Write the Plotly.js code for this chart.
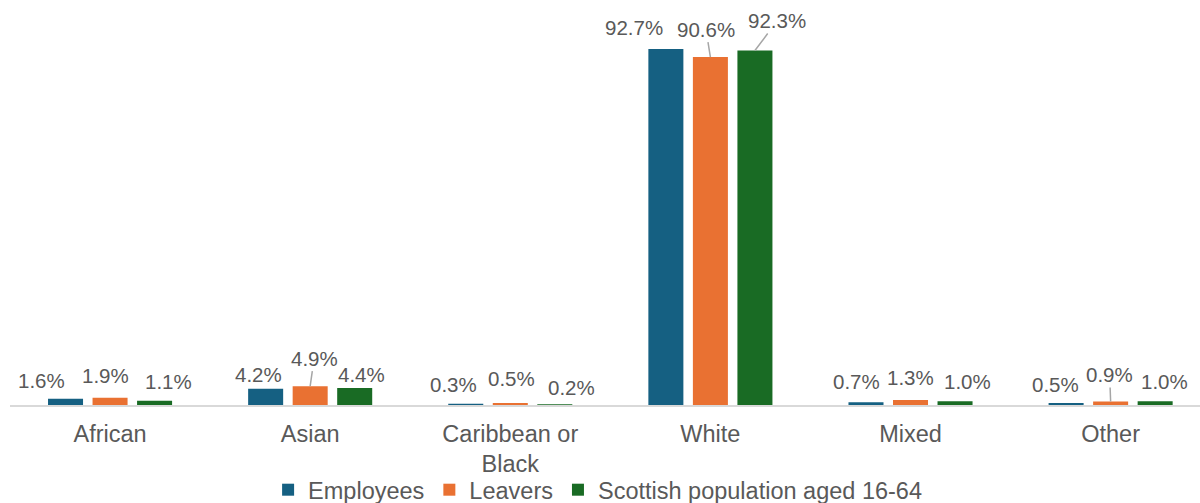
<!DOCTYPE html>
<html>
<head>
<meta charset="utf-8">
<script src="https://cdn.plot.ly/plotly-3.0.1.min.js"></script>
<style>html,body{margin:0;padding:0;background:#fff;}#chart{width:1200px;height:503px;}</style>
</head>
<body>
<div id="chart"></div>
<script>
// ---- data ----
var categories = ['African', 'Asian', 'Caribbean or Black', 'White', 'Mixed', 'Other'];
var tickLabels = ['African', 'Asian', 'Caribbean or<br>Black', 'White', 'Mixed', 'Other'];
var seriesNames = ['Employees', 'Leavers', 'Scottish population aged 16-64'];
var employees = [1.6, 4.2, 0.3, 92.7, 0.7, 0.5];
var leavers = [1.9, 4.9, 0.5, 90.6, 1.3, 0.9];
var scottish = [1.1, 4.4, 0.2, 92.3, 1.0, 1.0];

// ---- style ----
var colors = ['#156082', '#E97132', '#196B24'];
var textColor = '#595959';
var font = '"Liberation Sans", Arial, sans-serif';
var bargap = 0.3325, bargroupgap = 0.2135;
// label pixel offsets (dx, dy) from bar top, per series per category; leader = draw leader line
var labelDx = [[-24, -7.5, -12.5, -32, -9.5, -10.5], [-5, 4, 1.5, -4.5, 0, -1], [14, 7, 16.5, 22.5, 12, 9.5]];
var labelDy = [[-18, -14, -19, -22, -20.5, -18.5], [-22, -28, -24.5, -28, -22.5, -27], [-19, -13.5, -16.5, -30, -19.5, -19.5]];
var leader = [[0,0,0,0,0,0],[0,1,0,1,0,1],[0,0,0,1,0,0]];

var series = [employees, leavers, scottish];
var traces = series.map(function (vals, s) {
  return {
    type: 'bar', name: seriesNames[s], x: categories, y: vals,
    marker: {color: colors[s], line: {width: 0}},
    hoverinfo: 'skip'
  };
});

var slot = (1 - bargap) / 3;
var annotations = [];
series.forEach(function (vals, s) {
  vals.forEach(function (v, i) {
    annotations.push({
      xref: 'x', yref: 'y', x: i + (s - 1) * slot, y: v,
      text: v.toFixed(1) + '%',
      showarrow: true, arrowhead: 0, arrowwidth: 1.5, standoff: 0,
      arrowcolor: leader[s][i] ? '#a6a6a6' : 'rgba(0,0,0,0)',
      ax: labelDx[s][i], ay: labelDy[s][i],
      font: {family: font, size: 20.5, color: textColor}
    });
  });
});

var layout = {
  width: 1200, height: 503,
  margin: {l: 9.5, r: 0, t: 21, b: 98},
  paper_bgcolor: '#fff', plot_bgcolor: '#fff',
  barmode: 'group', bargap: bargap, bargroupgap: bargroupgap,
  showlegend: true,
  legend: {
    orientation: 'h', xref: 'container', yref: 'container',
    x: 0.498, xanchor: 'center', y: 0.026, yanchor: 'middle',
    bgcolor: 'rgba(0,0,0,0)',
    font: {family: font, size: 23.5, color: textColor},
    itemwidth: 30, traceorder: 'normal', itemclick: false
  },
  xaxis: {
    type: 'category', range: [-0.5, 5.4466],
    tickvals: categories, ticktext: tickLabels,
    showgrid: false, zeroline: false, ticks: '', ticklabelstandoff: 7,
    showline: true, linecolor: '#d9d9d9', linewidth: 1.5,
    tickfont: {family: font, size: 23.5, color: textColor},
    fixedrange: true
  },
  yaxis: {
    range: [0, 100], visible: false, showgrid: false, zeroline: false, fixedrange: true
  },
  annotations: annotations
};

Plotly.newPlot('chart', traces, layout, {displayModeBar: false, staticPlot: true});
</script>
</body>
</html>
